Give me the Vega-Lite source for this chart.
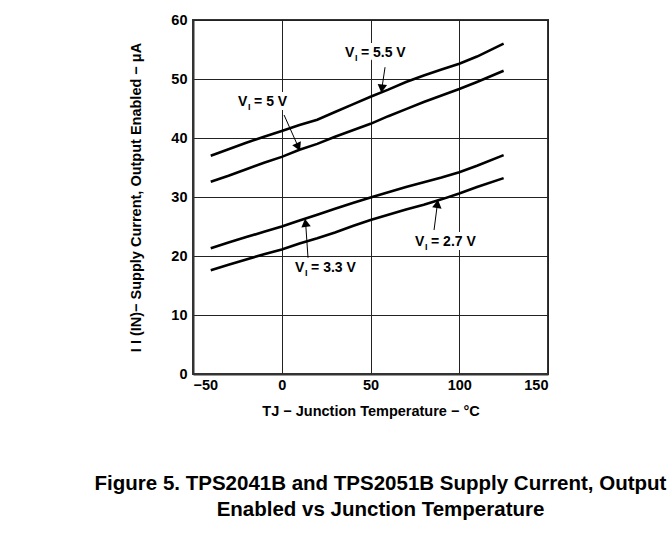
{
  "$schema": "https://vega.github.io/schema/vega-lite/v6.json",
  "width": 355,
  "height": 354,
  "autosize": {"type": "none"},
  "padding": {"left": 193, "top": 20, "right": 123, "bottom": 159},
  "background": "white",
  "title": {
    "text": ["Figure 5. TPS2041B and TPS2051B Supply Current, Output", "Enabled vs Junction Temperature"],
    "orient": "bottom",
    "anchor": "middle",
    "frame": "group",
    "dx": 10,
    "offset": 56,
    "font": "Liberation Sans",
    "fontSize": 20.5,
    "fontWeight": "bold",
    "color": "black",
    "lineHeight": 26
  },
  "config": {
    "view": {"stroke": "#333", "strokeWidth": 2},
    "axis": {
      "labelFont": "Liberation Sans",
      "labelFontWeight": "bold",
      "labelFontSize": 14.5,
      "labelColor": "black",
      "titleFont": "Liberation Sans",
      "titleFontWeight": "bold",
      "titleFontSize": 14,
      "titleColor": "black",
      "ticks": false,
      "domainColor": "#333",
      "domainWidth": 2,
      "gridColor": "#222",
      "gridWidth": 1,
      "gridOpacity": 1
    }
  },
  "datasets": {
    "curves": [
      {"v": "5.5 V", "t": -40, "i": 37.0}, {"v": "5.5 V", "t": -30, "i": 38.1}, {"v": "5.5 V", "t": -20, "i": 39.2}, {"v": "5.5 V", "t": -10, "i": 40.2}, {"v": "5.5 V", "t": 0, "i": 41.2}, {"v": "5.5 V", "t": 10, "i": 42.2}, {"v": "5.5 V", "t": 20, "i": 43.1}, {"v": "5.5 V", "t": 30, "i": 44.4}, {"v": "5.5 V", "t": 40, "i": 45.7}, {"v": "5.5 V", "t": 50, "i": 47.0}, {"v": "5.5 V", "t": 60, "i": 48.2}, {"v": "5.5 V", "t": 70, "i": 49.5}, {"v": "5.5 V", "t": 80, "i": 50.6}, {"v": "5.5 V", "t": 90, "i": 51.6}, {"v": "5.5 V", "t": 100, "i": 52.6}, {"v": "5.5 V", "t": 110, "i": 53.8}, {"v": "5.5 V", "t": 125, "i": 56.0},
      {"v": "5 V", "t": -40, "i": 32.6}, {"v": "5 V", "t": -30, "i": 33.6}, {"v": "5 V", "t": -20, "i": 34.7}, {"v": "5 V", "t": -10, "i": 35.8}, {"v": "5 V", "t": 0, "i": 36.8}, {"v": "5 V", "t": 10, "i": 38.0}, {"v": "5 V", "t": 20, "i": 39.0}, {"v": "5 V", "t": 30, "i": 40.2}, {"v": "5 V", "t": 40, "i": 41.3}, {"v": "5 V", "t": 50, "i": 42.4}, {"v": "5 V", "t": 60, "i": 43.7}, {"v": "5 V", "t": 70, "i": 44.9}, {"v": "5 V", "t": 80, "i": 46.1}, {"v": "5 V", "t": 90, "i": 47.2}, {"v": "5 V", "t": 100, "i": 48.3}, {"v": "5 V", "t": 110, "i": 49.5}, {"v": "5 V", "t": 125, "i": 51.4},
      {"v": "3.3 V", "t": -40, "i": 21.3}, {"v": "3.3 V", "t": -30, "i": 22.3}, {"v": "3.3 V", "t": -20, "i": 23.2}, {"v": "3.3 V", "t": -10, "i": 24.1}, {"v": "3.3 V", "t": 0, "i": 25.0}, {"v": "3.3 V", "t": 10, "i": 26.0}, {"v": "3.3 V", "t": 20, "i": 27.0}, {"v": "3.3 V", "t": 30, "i": 28.0}, {"v": "3.3 V", "t": 40, "i": 29.0}, {"v": "3.3 V", "t": 50, "i": 29.9}, {"v": "3.3 V", "t": 60, "i": 30.8}, {"v": "3.3 V", "t": 70, "i": 31.7}, {"v": "3.3 V", "t": 80, "i": 32.5}, {"v": "3.3 V", "t": 90, "i": 33.3}, {"v": "3.3 V", "t": 100, "i": 34.2}, {"v": "3.3 V", "t": 110, "i": 35.3}, {"v": "3.3 V", "t": 125, "i": 37.1},
      {"v": "2.7 V", "t": -40, "i": 17.6}, {"v": "2.7 V", "t": -30, "i": 18.5}, {"v": "2.7 V", "t": -20, "i": 19.4}, {"v": "2.7 V", "t": -10, "i": 20.3}, {"v": "2.7 V", "t": 0, "i": 21.1}, {"v": "2.7 V", "t": 10, "i": 22.1}, {"v": "2.7 V", "t": 20, "i": 23.0}, {"v": "2.7 V", "t": 30, "i": 24.0}, {"v": "2.7 V", "t": 40, "i": 25.1}, {"v": "2.7 V", "t": 50, "i": 26.1}, {"v": "2.7 V", "t": 60, "i": 27.0}, {"v": "2.7 V", "t": 70, "i": 27.9}, {"v": "2.7 V", "t": 80, "i": 28.7}, {"v": "2.7 V", "t": 90, "i": 29.6}, {"v": "2.7 V", "t": 100, "i": 30.6}, {"v": "2.7 V", "t": 110, "i": 31.7}, {"v": "2.7 V", "t": 125, "i": 33.2}
    ],
    "labels": [
      {"v": "5.5 V", "a": "V", "sub": "I", "rest": "= 5.5 V", "x": 35.6, "y": 54.4},
      {"v": "5 V", "a": "V", "sub": "I", "rest": "= 5 V", "x": -24.6, "y": 46.1},
      {"v": "3.3 V", "a": "V", "sub": "I", "rest": "= 3.3 V", "x": 7.5, "y": 18.0},
      {"v": "2.7 V", "a": "V", "sub": "I", "rest": "= 2.7 V", "x": 75.1, "y": 22.4}
    ],
    "arrows": [
      {"v": "5.5 V", "x1": 58.2, "y1": 52.0, "x2": 56.5, "y2": 48.6},
      {"v": "5 V", "x1": 1.3, "y1": 43.9, "x2": 9.0, "y2": 38.7},
      {"v": "3.3 V", "x1": 14.8, "y1": 19.7, "x2": 13.5, "y2": 25.4},
      {"v": "2.7 V", "x1": 85.8, "y1": 24.4, "x2": 87.6, "y2": 28.6}
    ]
  },
  "layer": [
    {
      "data": {"name": "curves"},
      "mark": {"type": "line", "color": "black", "strokeWidth": 2.6},
      "encoding": {
        "x": {"field": "t", "type": "quantitative", "scale": {"domain": [-50, 150], "nice": false}, "axis": {"values": [-50, 0, 50, 100, 150], "title": "TJ − Junction Temperature − °C", "titleFontSize": 14.5, "labelPadding": 4, "titlePadding": 13}},
        "y": {"field": "i", "type": "quantitative", "scale": {"domain": [0, 60], "nice": false}, "axis": {"values": [0, 10, 20, 30, 40, 50, 60], "title": "I I (IN)− Supply Current, Output Enabled −  μA", "titleFontSize": 14.5, "labelPadding": 6, "titlePadding": 27}},
        "detail": {"field": "v"}
      }
    },
    {
      "data": {"name": "labels"},
      "mark": {"type": "text", "align": "left", "baseline": "middle", "font": "Liberation Sans", "fontWeight": "bold", "fontSize": 14, "stroke": "white", "strokeWidth": 8, "fill": "white", "dx": 16},
      "encoding": {"x": {"field": "x", "type": "quantitative"}, "y": {"field": "y", "type": "quantitative"}, "text": {"field": "rest"}}
    },
    {
      "data": {"name": "labels"},
      "mark": {"type": "text", "align": "left", "baseline": "middle", "font": "Liberation Sans", "fontWeight": "bold", "fontSize": 14, "stroke": "white", "strokeWidth": 8, "fill": "white"},
      "encoding": {"x": {"field": "x", "type": "quantitative"}, "y": {"field": "y", "type": "quantitative"}, "text": {"field": "a"}}
    },
    {
      "data": {"name": "labels"},
      "mark": {"type": "text", "align": "left", "baseline": "middle", "font": "Liberation Sans", "fontWeight": "bold", "fontSize": 14, "color": "black"},
      "encoding": {"x": {"field": "x", "type": "quantitative"}, "y": {"field": "y", "type": "quantitative"}, "text": {"field": "a"}}
    },
    {
      "data": {"name": "labels"},
      "mark": {"type": "text", "align": "left", "baseline": "middle", "font": "Liberation Sans", "fontWeight": "bold", "fontSize": 9, "color": "black", "dx": 10, "dy": 5},
      "encoding": {"x": {"field": "x", "type": "quantitative"}, "y": {"field": "y", "type": "quantitative"}, "text": {"field": "sub"}}
    },
    {
      "data": {"name": "labels"},
      "mark": {"type": "text", "align": "left", "baseline": "middle", "font": "Liberation Sans", "fontWeight": "bold", "fontSize": 14, "color": "black", "dx": 16},
      "encoding": {"x": {"field": "x", "type": "quantitative"}, "y": {"field": "y", "type": "quantitative"}, "text": {"field": "rest"}}
    },
    {
      "data": {"name": "arrows"},
      "mark": {"type": "rule", "color": "black", "strokeWidth": 1},
      "encoding": {"x": {"field": "x1", "type": "quantitative"}, "y": {"field": "y1", "type": "quantitative"}, "x2": {"field": "x2"}, "y2": {"field": "y2"}}
    },
    {
      "data": {"name": "arrows"},
      "transform": [{"filter": "datum.v === '5.5 V'"}],
      "mark": {"type": "point", "shape": "triangle", "filled": true, "color": "black", "opacity": 1, "size": 90, "angle": 187},
      "encoding": {"x": {"field": "x2", "type": "quantitative"}, "y": {"field": "y2", "type": "quantitative"}}
    },
    {
      "data": {"name": "arrows"},
      "transform": [{"filter": "datum.v === '5 V'"}],
      "mark": {"type": "point", "shape": "triangle", "filled": true, "color": "black", "opacity": 1, "size": 90, "angle": 155},
      "encoding": {"x": {"field": "x2", "type": "quantitative"}, "y": {"field": "y2", "type": "quantitative"}}
    },
    {
      "data": {"name": "arrows"},
      "transform": [{"filter": "datum.v === '3.3 V'"}],
      "mark": {"type": "point", "shape": "triangle", "filled": true, "color": "black", "opacity": 1, "size": 90, "angle": 352},
      "encoding": {"x": {"field": "x2", "type": "quantitative"}, "y": {"field": "y2", "type": "quantitative"}}
    },
    {
      "data": {"name": "arrows"},
      "transform": [{"filter": "datum.v === '2.7 V'"}],
      "mark": {"type": "point", "shape": "triangle", "filled": true, "color": "black", "opacity": 1, "size": 90, "angle": 8},
      "encoding": {"x": {"field": "x2", "type": "quantitative"}, "y": {"field": "y2", "type": "quantitative"}}
    }
  ]
}
